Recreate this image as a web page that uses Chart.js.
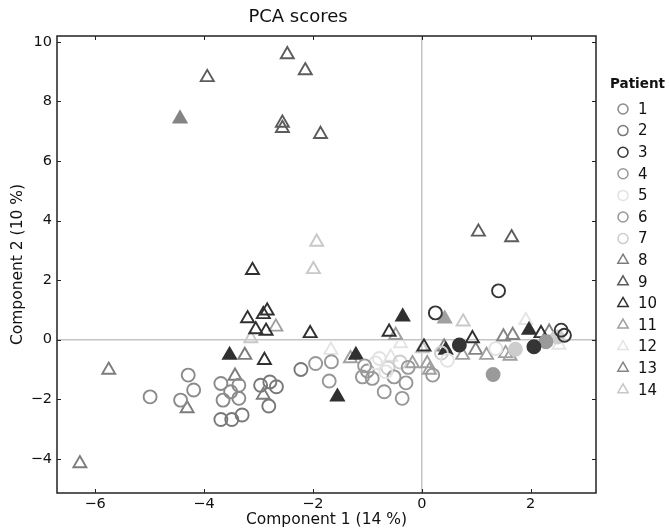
<!DOCTYPE html>
<html>
<head>
<meta charset="utf-8">
<script src="https://cdn.jsdelivr.net/npm/chart.js@4"></script>
<style>
  html, body { margin: 0; padding: 0; background: #fff; }
  #wrap { width: 670px; height: 531px; }
</style>
</head>
<body>
<div id="wrap"><canvas id="pcaChart" width="670" height="531"></canvas></div>
<script>
// scores, one array per patient ([component 1, component 2])
const patients = ['1', '2', '3', '4', '5', '6', '7', '8', '9', '10', '11', '12', '13', '14'];
const xTicks = [-6, -4, -2, 0, 2];
const yTicks = [-4, -2, 0, 2, 4, 6, 8, 10];

const p1 = [[-4.99, -1.92], [-4.29, -1.19], [-4.19, -1.69], [-4.43, -2.03], [-3.69, -1.47], [-3.36, -1.53], [-3.51, -1.75], [-3.65, -2.03], [-3.36, -1.97]];
const p2 = [[-3.69, -2.68], [-3.49, -2.68], [-3.30, -2.53], [-2.96, -1.53], [-2.79, -1.42], [-2.67, -1.58], [-2.81, -2.23], [-2.22, -1.00]];
const p3 = [[0.25, 0.90], [1.41, 1.64], [2.56, 0.32], [2.62, 0.15]];
const p4 = [[-1.05, -0.88], [-0.25, -0.93]];
const p5 = [[-0.78, -0.63], [-0.66, -1.08], [0.47, -0.69], [1.36, -0.30], [-0.85, -0.78]];
const p6 = [[-1.95, -0.80], [-1.66, -0.74], [-1.70, -1.39], [-1.09, -1.25], [-0.91, -1.30], [-0.51, -1.25], [-0.29, -1.45], [-0.69, -1.75], [-0.36, -1.97], [0.20, -1.19], [-1.00, -1.05]];
const p7 = [[-0.62, -0.95], [0.36, -0.45], [-0.40, -0.75]];
const p8 = [[-5.75, -1.02], [-6.28, -4.16], [-4.31, -2.31], [-3.43, -1.22], [-2.91, -1.86], [-3.25, -0.52]];
const p9 = [[-3.94, 8.81], [-2.47, 9.58], [-2.14, 9.04], [-2.56, 7.28], [-2.56, 7.10], [-1.86, 6.90], [1.04, 3.62], [1.65, 3.43]];
const p10 = [[-3.11, 2.33], [-3.20, 0.71], [-2.91, 0.85], [-2.84, 0.97], [-3.05, 0.34], [-2.86, 0.29], [-2.89, -0.69], [-2.05, 0.21], [-0.60, 0.26], [0.04, -0.24], [0.93, 0.04], [2.19, 0.21]];
const p11 = [[-2.68, 0.43], [-1.31, -0.63], [-0.48, 0.15], [-0.17, -0.80], [0.10, -0.80], [0.14, -1.02], [0.75, -0.52], [1.19, -0.52], [1.54, -0.46], [1.62, -0.55]];
const p12 = [[-1.67, -0.35], [-0.39, -0.13], [-0.57, -0.58], [1.91, 0.65], [2.52, -0.18]];
const p13 = [[0.41, -0.24], [0.99, -0.35], [1.67, 0.15], [2.34, 0.26], [1.50, 0.10]];
const p14 = [[-1.93, 3.28], [-1.99, 2.36], [-3.14, 0.04], [0.76, 0.60], [0.01, -0.30]];

// the filled markers
const p3Filled = [[0.69, -0.18], [2.06, -0.24]];
const p4Filled = [[1.31, -1.17], [2.28, -0.07]];
const p7Filled = [[2.49, 0.09], [1.72, -0.32]];
const p10Filled = [[-3.53, -0.52], [-1.55, -1.92], [-1.21, -0.52], [-0.35, 0.77], [0.44, -0.35], [1.97, 0.32]];
const p11Filled = [[0.42, 0.70]];
const p13Filled = [[-4.44, 7.42]];

const openPts = [p1, p2, p3, p4, p5, p6, p7, p8, p9, p10, p11, p12, p13, p14];
const filledPts = [[], [], p3Filled, p4Filled, [], [], p7Filled, [], [], p10Filled, p11Filled, [], p13Filled, []];

const colors = ['#8a8a8a', '#787878', '#353535', '#9a9a9a', '#e2e2e2', '#979797', '#cdcdcd',
                '#7c7c7c', '#5c5c5c', '#303030', '#a0a0a0', '#e4e4e4', '#848484', '#c8c8c8'];
const shapes = ['circle', 'circle', 'circle', 'circle', 'circle', 'circle', 'circle',
                'triangle', 'triangle', 'triangle', 'triangle', 'triangle', 'triangle', 'triangle'];

const FONT = "'DejaVu Sans', sans-serif";

function buildDatasets() {
    let sets = [];
    for (let i = 0; i < patients.length; i++) {
        let pts = [];
        let fills = [];
        openPts[i].forEach(p => { pts.push({ x: p[0], y: p[1] }); fills.push('rgba(255,255,255,0)'); });
        filledPts[i].forEach(p => { pts.push({ x: p[0], y: p[1] }); fills.push(colors[i]); });
        sets.push({
            label: patients[i],
            data: pts,
            pointStyle: shapes[i],
            pointRadius: shapes[i] === 'circle' ? 6.5 : 7.5,
            pointBorderWidth: 1.9,
            borderColor: colors[i],
            pointBackgroundColor: fills,
            pointHoverRadius: 7
        });
    }
    return sets;
}

// box round the plot, small inward ticks and the "Patient" legend
const framePlugin = {
    id: 'frame',
    afterDraw(chart) {
        const ctx = chart.ctx;
        const a = chart.chartArea;
        const xs = chart.scales.x;
        const ys = chart.scales.y;
        ctx.save();
        ctx.strokeStyle = '#222';
        ctx.lineWidth = 1.5;
        ctx.strokeRect(a.left, a.top, a.right - a.left, a.bottom - a.top);
        ctx.lineWidth = 1;
        ctx.beginPath();
        xTicks.forEach(v => {
            let px = Math.round(xs.getPixelForValue(v)) + 0.5;
            ctx.moveTo(px, a.bottom); ctx.lineTo(px, a.bottom - 4);
            ctx.moveTo(px, a.top); ctx.lineTo(px, a.top + 4);
        });
        yTicks.forEach(v => {
            let py = Math.round(ys.getPixelForValue(v)) + 0.5;
            ctx.moveTo(a.left, py); ctx.lineTo(a.left + 4, py);
            ctx.moveTo(a.right, py); ctx.lineTo(a.right - 4, py);
        });
        ctx.stroke();

        // legend
        ctx.fillStyle = '#111';
        ctx.font = 'bold 13.5px ' + FONT;
        ctx.textBaseline = 'middle';
        ctx.textAlign = 'left';
        ctx.fillText('Patient', 610, 84);
        ctx.font = '15px ' + FONT;
        for (let i = 0; i < patients.length; i++) {
            let cy = 109 + i * 21.6;
            let cx = 623;
            ctx.strokeStyle = colors[i];
            ctx.lineWidth = 1.5;
            ctx.beginPath();
            if (shapes[i] === 'circle') {
                ctx.arc(cx, cy, 5, 0, Math.PI * 2);
            } else {
                let r = 6;
                ctx.moveTo(cx, cy - r);
                ctx.lineTo(cx + r * 0.866, cy + r * 0.5);
                ctx.lineTo(cx - r * 0.866, cy + r * 0.5);
                ctx.closePath();
            }
            ctx.stroke();
            ctx.fillStyle = '#111';
            ctx.fillText(patients[i], 638, cy + 1);
        }
        ctx.restore();
    }
};

function minusSign(v) {
    return String(v).replace('-', '\u2212');
}

const ctx = document.querySelector('#pcaChart');
new Chart(ctx, {
    type: 'scatter',
    data: { datasets: buildDatasets() },
    options: {
        responsive: false,
        animation: false,
        events: [],
        layout: { padding: { left: 0, right: 74, top: 0, bottom: 0 } },
        plugins: {
            legend: { display: false },
            tooltip: { enabled: false },
            title: {
                display: true,
                text: 'PCA scores',
                color: '#111',
                font: { family: FONT, size: 18, weight: 'normal' },
                padding: { top: 7, bottom: 7.4 }
            }
        },
        scales: {
            x: {
                type: 'linear',
                min: -6.7,
                max: 3.2,
                afterBuildTicks: s => { s.ticks = xTicks.map(v => ({ value: v })); },
                afterFit: s => { s.height = 38; },
                ticks: {
                    color: '#111',
                    padding: 3,
                    maxRotation: 0,
                    font: { family: FONT, size: 14.5 },
                    callback: v => minusSign(v)
                },
                grid: {
                    drawTicks: false,
                    lineWidth: 1.5,
                    color: c => (c.tick && c.tick.value === 0) ? '#c4c4c4' : 'rgba(0,0,0,0)'
                },
                border: { display: false },
                title: {
                    display: true,
                    text: 'Component 1 (14 %)',
                    color: '#111',
                    font: { family: FONT, size: 15.5 },
                    padding: { top: 0, bottom: 1.5 }
                }
            },
            y: {
                type: 'linear',
                min: -5.15,
                max: 10.2,
                afterBuildTicks: s => { s.ticks = yTicks.map(v => ({ value: v })); },
                afterFit: s => { s.width = 57; },
                ticks: {
                    color: '#111',
                    padding: 5,
                    font: { family: FONT, size: 14.5 },
                    callback: v => minusSign(v)
                },
                grid: {
                    drawTicks: false,
                    lineWidth: 1.5,
                    color: c => (c.tick && c.tick.value === 0) ? '#c4c4c4' : 'rgba(0,0,0,0)'
                },
                border: { display: false },
                title: {
                    display: true,
                    text: 'Component 2 (10 %)',
                    color: '#111',
                    font: { family: FONT, size: 15.5 },
                    padding: { top: 8.5, bottom: 0 }
                }
            }
        }
    },
    plugins: [framePlugin]
});
</script>
</body>
</html>
